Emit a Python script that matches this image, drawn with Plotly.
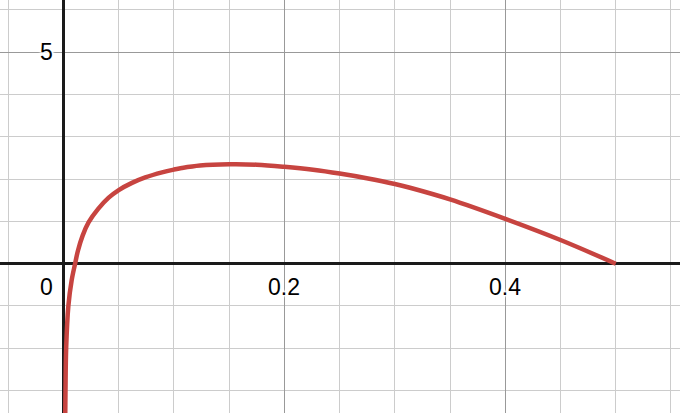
import plotly.graph_objects as go

# curve samples
x_vals = [0.0013, 0.0016, 0.0018, 0.0024, 0.0044, 0.0074, 0.0105, 0.0130, 0.0174, 0.0228,
          0.0312, 0.0409, 0.05, 0.062, 0.074, 0.0892, 0.1, 0.107, 0.1236, 0.15,
          0.175, 0.2, 0.226, 0.25, 0.2745, 0.3, 0.3137, 0.35, 0.4, 0.45, 0.5]
y_vals = [-4.0, -3.5, -3.0, -2.0, -1.0, -0.39, 0.0, 0.30, 0.67, 0.98,
          1.29, 1.56, 1.74, 1.91, 2.04, 2.16, 2.225, 2.26, 2.32, 2.35,
          2.34, 2.29, 2.22, 2.13, 2.02, 1.885, 1.795, 1.52, 1.06, 0.56, 0.0]

x_tick_vals = [0.2, 0.4]
x_tick_text = ["0.2", "0.4"]
y_tick_vals = [5]
y_tick_text = ["5"]
origin_text = "0"

x_range = [-0.0575, 0.5582]
y_range = [-3.53, 6.234]

RED = "#c74440"
halo = ("1px 0 1px white, -1px 0 1px white, 0 1px 1px white, 0 -1px 1px white, "
        "2px 0 2px white, -2px 0 2px white, 0 2px 2px white, 0 -2px 2px white")
font = dict(family="Liberation Sans, Arial, sans-serif", size=23, color="#000000", shadow=halo)

fig = go.Figure()
fig.add_trace(go.Scatter(x=x_vals, y=y_vals, mode="lines",
                         line=dict(color=RED, width=4.5, shape="spline", smoothing=1.0),
                         hoverinfo="skip", showlegend=False))

annotations = []
for v, t in zip(x_tick_vals, x_tick_text):
    annotations.append(dict(x=v, y=0, xref="x", yref="y", text=t, showarrow=False,
                            xanchor="center", yanchor="top", yshift=-8, font=font))
for v, t in zip(y_tick_vals, y_tick_text):
    annotations.append(dict(x=0, y=v, xref="x", yref="y", text=t, showarrow=False,
                            xanchor="right", yanchor="middle", xshift=-9, font=font))
annotations.append(dict(x=0, y=0, xref="x", yref="y", text=origin_text, showarrow=False,
                        xanchor="right", yanchor="top", xshift=-9, yshift=-8, font=font))

axis_common = dict(showticklabels=False, ticks="", showline=False,
                   zeroline=True, zerolinecolor="#1a1a1a", zerolinewidth=2.5,
                   showgrid=True, gridcolor="#999999", gridwidth=1)

fig.update_layout(
    width=680, height=413,
    margin=dict(l=0, r=0, t=0, b=0),
    paper_bgcolor="white", plot_bgcolor="white",
    xaxis=dict(range=x_range, dtick=0.2, tick0=0,
               minor=dict(dtick=0.05, tick0=0, showgrid=True, gridcolor="#cccccc", gridwidth=1),
               **axis_common),
    yaxis=dict(range=y_range, dtick=5, tick0=0,
               minor=dict(dtick=1, tick0=0, showgrid=True, gridcolor="#cccccc", gridwidth=1),
               **axis_common),
    annotations=annotations,
    showlegend=False,
)

fig.write_html("out.html", config={"displayModeBar": False, "staticPlot": True},
               post_script="document.body.style.margin='0';document.body.style.overflow='hidden';")
